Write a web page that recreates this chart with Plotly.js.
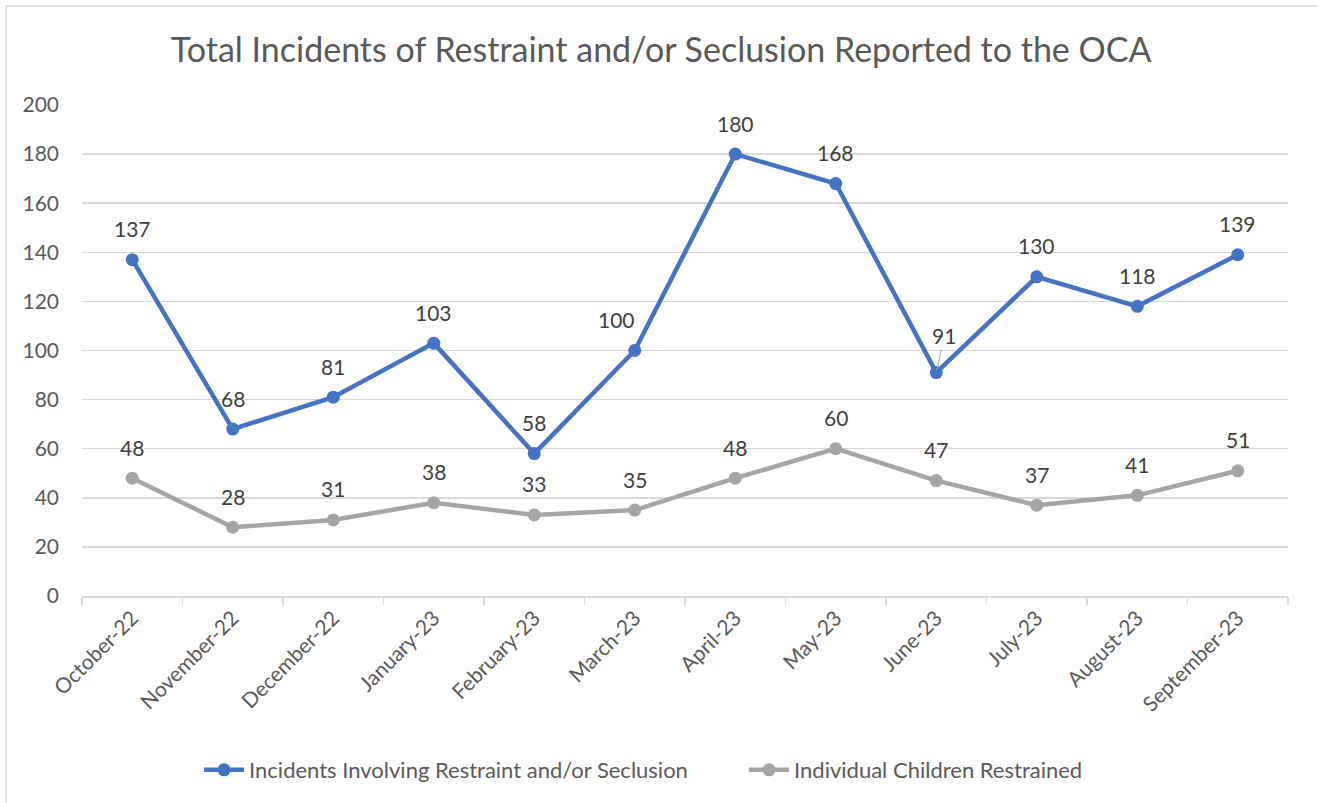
<!DOCTYPE html>
<html>
<head>
<meta charset="utf-8">
<script src="https://cdn.plot.ly/plotly-3.0.1.min.js"></script>
<style>
  html, body { margin: 0; padding: 0; background: #ffffff; }
  #chart { width: 1317px; height: 803px; }
</style>
</head>
<body>
<div id="chart"></div>
<script>
const categories = ["October-22", "November-22", "December-22", "January-23", "February-23", "March-23",
                    "April-23", "May-23", "June-23", "July-23", "August-23", "September-23"];
const incidents = [137, 68, 81, 103, 58, 100, 180, 168, 91, 130, 118, 139];
const children = [48, 28, 31, 38, 33, 35, 48, 60, 47, 37, 41, 51];
const seriesNames = ["Incidents Involving Restraint and/or Seclusion", "Individual Children Restrained"];
const chartTitle = "Total Incidents of Restraint and/or Seclusion Reported to the OCA";
const yTicks = [0, 20, 40, 60, 80, 100, 120, 140, 160, 180, 200];

const W = 1317, H = 803;
const M = { l: 82, r: 29, t: 105, b: 207, autoexpand: false };
const pw = W - M.l - M.r, ph = H - M.t - M.b;
const FONT = "Lato, 'Open Sans', sans-serif";
const BLUE = "#4472C4", GREY = "#A5A5A5";

function mkTrace(vals, name, color) {
  return {
    type: "scatter", mode: "lines+markers",
    x: categories, y: vals, name: name,
    line: { color: color, width: 4.5 },
    marker: { color: color, size: 13, symbol: "circle" },
    hoverinfo: "x+y+name"
  };
}

const annotations = [];
function addLabels(vals, nudges) {
  vals.forEach((v, i) => {
    const n = nudges[categories[i]] || {};
    const a = {
      x: categories[i], y: v, xref: "x", yref: "y",
      text: String(v),
      font: { family: FONT, size: 21, color: "#404040" },
      showarrow: false,
      xshift: n.dx || 0, yshift: n.dy || 31
    };
    if (n.leader) {
      a.showarrow = true; a.arrowhead = 0; a.arrowwidth = 1; a.arrowcolor = "#A6A6A6";
      a.ax = n.dx; a.ay = -n.dy; a.xshift = 0; a.yshift = 0; a.standoff = 2;
    }
    annotations.push(a);
  });
}
addLabels(incidents, { "March-23": { dx: -18 }, "June-23": { dx: 8, dy: 37, leader: true } });
addLabels(children, {});

const bx0 = (6 - M.l) / pw, bx1 = (W + 5 - M.l) / pw;
const by1 = 1 + (M.t - 6) / ph, by0 = -(H + 5 - M.t - ph) / ph;

const layout = {
  width: W, height: H,
  margin: M,
  paper_bgcolor: "#ffffff", plot_bgcolor: "#ffffff",
  font: { family: FONT, color: "#595959" },
  title: {
    text: chartTitle,
    font: { family: FONT, size: 34, color: "#595959" },
    x: 0.502, xref: "container", xanchor: "center",
    y: 1 - 50 / H, yref: "container", yanchor: "middle"
  },
  xaxis: {
    type: "category",
    tickangle: -45,
    tickfont: { family: FONT, size: 21, color: "#595959" },
    showgrid: false, zeroline: false,
    showline: true, linecolor: "#D9D9D9", linewidth: 1.5,
    ticks: "outside", tickson: "boundaries", ticklen: 7, tickcolor: "#D9D9D9", tickwidth: 1.5,
    range: [-0.5, categories.length - 0.5],
    automargin: false,
    fixedrange: true
  },
  yaxis: {
    range: [0, 200],
    tickvals: yTicks,
    tickfont: { family: FONT, size: 21, color: "#595959" },
    showgrid: true, gridcolor: "#D9D9D9", gridwidth: 1.5,
    zeroline: false, showline: false, ticks: "",
    ticklabelstandoff: 22,
    automargin: false,
    fixedrange: true
  },
  showlegend: true,
  legend: {
    orientation: "h",
    x: 0.549, xanchor: "center",
    y: -(770 - (M.t + ph)) / ph, yanchor: "middle",
    font: { family: FONT, size: 22, color: "#595959" },
    bgcolor: "rgba(0,0,0,0)",
    itemwidth: 40,
    entrywidth: 490,
    traceorder: "normal"
  },
  annotations: annotations,
  shapes: [{
    type: "rect", xref: "paper", yref: "paper",
    x0: bx0, x1: bx1, y0: by0, y1: by1,
    line: { color: "#D9D9D9", width: 1.5 }, fillcolor: "rgba(0,0,0,0)", layer: "below"
  }]
};

Plotly.newPlot("chart", [mkTrace(incidents, seriesNames[0], BLUE), mkTrace(children, seriesNames[1], GREY)],
  layout, { displayModeBar: false, staticPlot: true });
</script>
</body>
</html>
